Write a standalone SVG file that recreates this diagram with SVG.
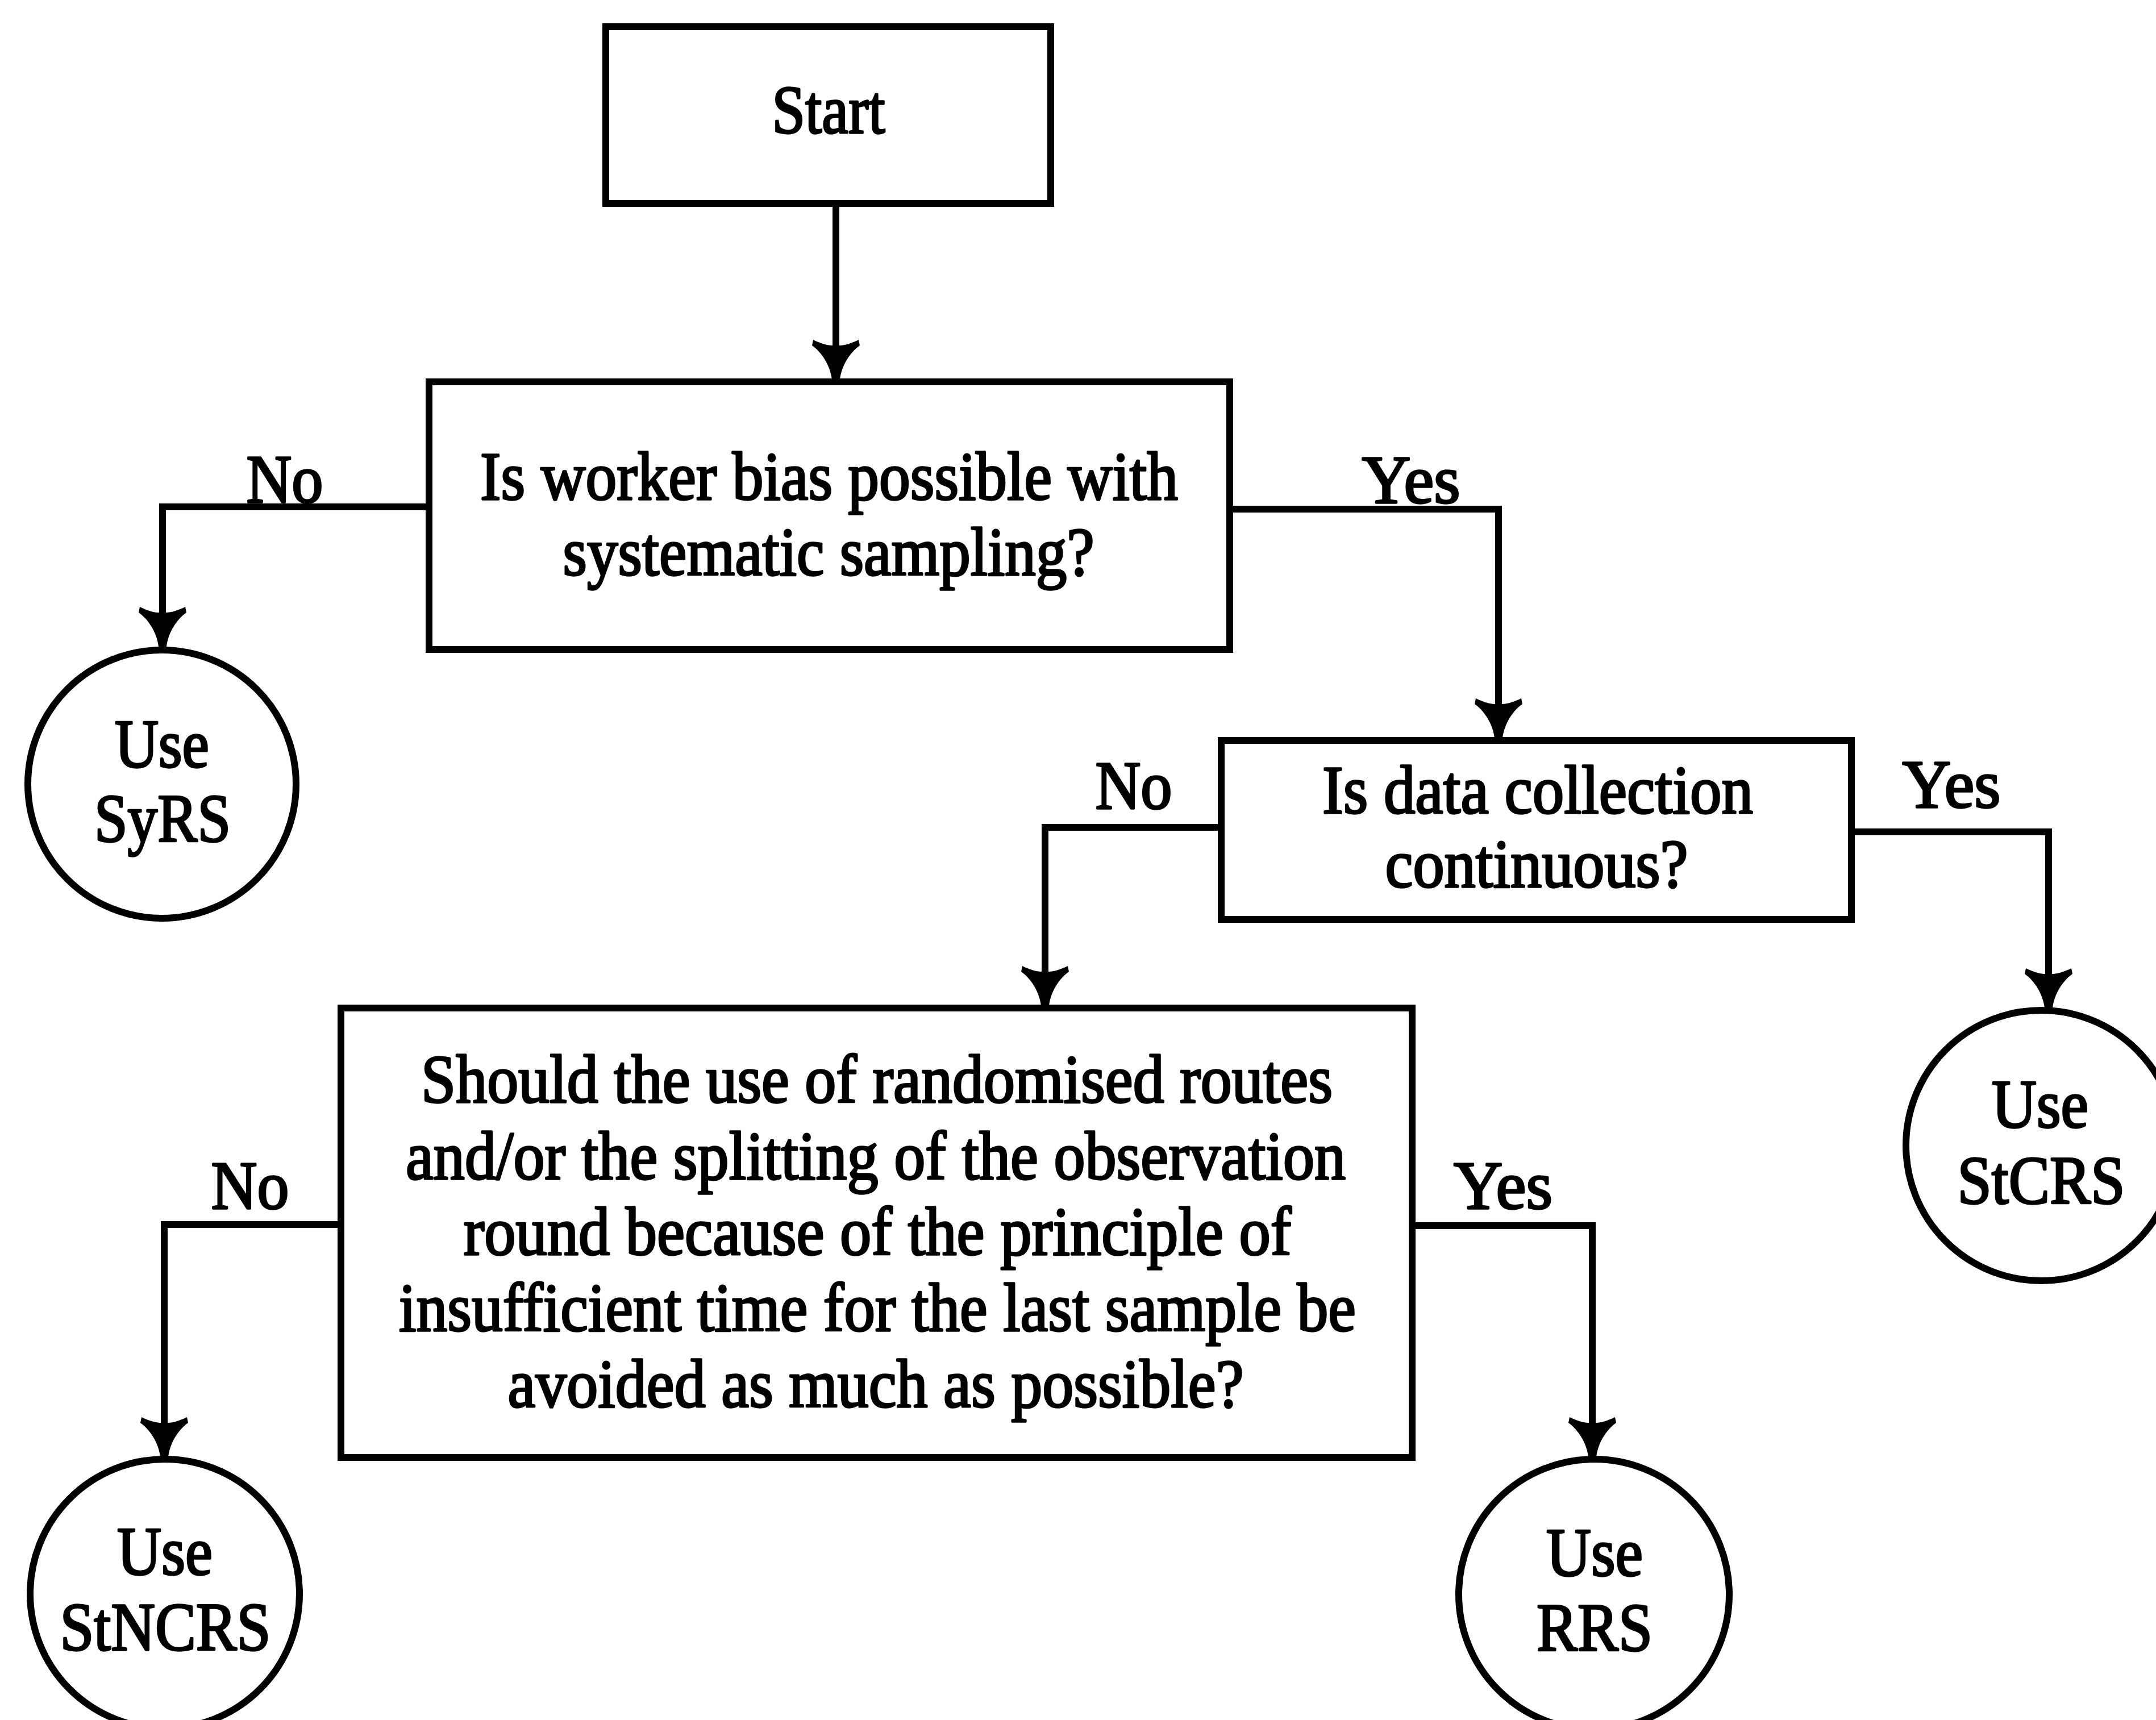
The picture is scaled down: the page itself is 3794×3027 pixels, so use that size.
<svg xmlns="http://www.w3.org/2000/svg" width="3794" height="3027" viewBox="0 0 3794 3027">
  <style>
    .box { fill: #fff; stroke: #000; stroke-width: 12; }
    .term { fill: #fff; stroke: #000; stroke-width: 12; }
    .lbl { font-family: "Liberation Serif", "Times New Roman", serif; font-size: 120px; fill: #000; stroke: #000; stroke-width: 3.5; stroke-linejoin: round; text-anchor: middle; }
    .edge { fill: none; stroke: #000; stroke-width: 12; stroke-linejoin: miter; }
  </style>
  <defs>
    <marker id="ah" markerUnits="userSpaceOnUse" orient="auto" refX="0" refY="0" markerWidth="160" markerHeight="160" viewBox="-80 -80 160 160" overflow="visible">
      <path d="M0,7 C-25,10 -48,25 -60,42 L-70,40 C-64,28 -60,15 -60,7 L-60,-7 C-60,-15 -64,-28 -70,-40 L-60,-42 C-48,-25 -25,-10 0,-7 Z" fill="#000" stroke="none"/>
    </marker>
  </defs>
  <rect width="3794" height="3027" fill="#fff"/>

  <!-- connectors -->
  <g id="connectors">
    <path class="edge" d="M1471,358 V668" marker-end="url(#ah)"/>
    <path class="edge" d="M755,892 H286 V1138" marker-end="url(#ah)"/>
    <path class="edge" d="M2164,896 H2637 V1299" marker-end="url(#ah)"/>
    <path class="edge" d="M3258,1464 H3605 V1774" marker-end="url(#ah)"/>
    <path class="edge" d="M2149,1456 H1839 V1770" marker-end="url(#ah)"/>
    <path class="edge" d="M600,2155 H289 V2564" marker-end="url(#ah)"/>
    <path class="edge" d="M2485,2157 H2802 V2564" marker-end="url(#ah)"/>
    <text class="lbl" x="501" y="884" textLength="135" lengthAdjust="spacingAndGlyphs">No</text>
    <text class="lbl" x="2483" y="885" textLength="173" lengthAdjust="spacingAndGlyphs">Yes</text>
    <text class="lbl" x="1995" y="1423" textLength="135" lengthAdjust="spacingAndGlyphs">No</text>
    <text class="lbl" x="3434" y="1421" textLength="173" lengthAdjust="spacingAndGlyphs">Yes</text>
    <text class="lbl" x="440" y="2127" textLength="137" lengthAdjust="spacingAndGlyphs">No</text>
    <text class="lbl" x="2645" y="2127" textLength="174" lengthAdjust="spacingAndGlyphs">Yes</text>
  </g>

  <!-- process boxes -->
  <g id="start">
    <rect class="box" x="1066" y="47" width="783" height="311"/>
    <text class="lbl" x="1458" y="234" textLength="199" lengthAdjust="spacingAndGlyphs">Start</text>
  </g>
  <g id="q-worker-bias">
    <rect class="box" x="755" y="672" width="1409" height="471"/>
    <text class="lbl" x="1459" y="879" textLength="1228" lengthAdjust="spacingAndGlyphs">Is worker bias possible with</text>
    <text class="lbl" x="1458" y="1012" textLength="935" lengthAdjust="spacingAndGlyphs">systematic sampling?</text>
  </g>
  <g id="q-continuous">
    <rect class="box" x="2149" y="1303" width="1109" height="315"/>
    <text class="lbl" x="2706" y="1431" textLength="758" lengthAdjust="spacingAndGlyphs">Is data collection</text>
    <text class="lbl" x="2704" y="1561" textLength="533" lengthAdjust="spacingAndGlyphs">continuous?</text>
  </g>
  <g id="q-routes">
    <rect class="box" x="600" y="1774" width="1885" height="791"/>
    <text class="lbl" x="1543" y="1940" textLength="1604" lengthAdjust="spacingAndGlyphs">Should the use of randomised routes</text>
    <text class="lbl" x="1541" y="2075" textLength="1654" lengthAdjust="spacingAndGlyphs">and/or the splitting of the observation</text>
    <text class="lbl" x="1544" y="2208" textLength="1457" lengthAdjust="spacingAndGlyphs">round because of the principle of</text>
    <text class="lbl" x="1544" y="2342" textLength="1684" lengthAdjust="spacingAndGlyphs">insufficient time for the last sample be</text>
    <text class="lbl" x="1541" y="2476" textLength="1295" lengthAdjust="spacingAndGlyphs">avoided as much as possible?</text>
  </g>

  <!-- terminal circles -->
  <g id="use-syrs">
    <circle class="term" cx="285" cy="1380" r="236"/>
    <text class="lbl" x="285" y="1350" textLength="166" lengthAdjust="spacingAndGlyphs">Use</text>
    <text class="lbl" x="286" y="1481" textLength="240" lengthAdjust="spacingAndGlyphs">SyRS</text>
  </g>
  <g id="use-stcrs">
    <circle class="term" cx="3592" cy="2016" r="238"/>
    <text class="lbl" x="3590" y="1984" textLength="170" lengthAdjust="spacingAndGlyphs">Use</text>
    <text class="lbl" x="3592" y="2118" textLength="295" lengthAdjust="spacingAndGlyphs">StCRS</text>
  </g>
  <g id="use-stncrs">
    <circle class="term" cx="290" cy="2805" r="237"/>
    <text class="lbl" x="290" y="2771" textLength="168" lengthAdjust="spacingAndGlyphs">Use</text>
    <text class="lbl" x="291" y="2904" textLength="371" lengthAdjust="spacingAndGlyphs">StNCRS</text>
  </g>
  <g id="use-rrs">
    <circle class="term" cx="2805" cy="2806" r="238"/>
    <text class="lbl" x="2806" y="2773" textLength="170" lengthAdjust="spacingAndGlyphs">Use</text>
    <text class="lbl" x="2806" y="2905" textLength="204" lengthAdjust="spacingAndGlyphs">RRS</text>
  </g>
</svg>
